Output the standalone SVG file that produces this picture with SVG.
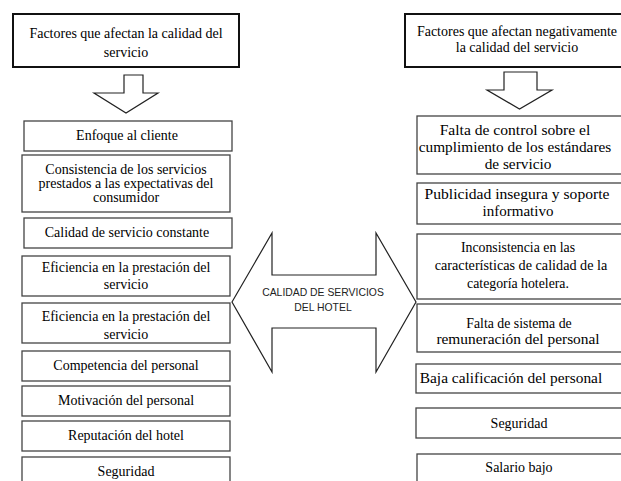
<svg xmlns="http://www.w3.org/2000/svg" width="621" height="481" viewBox="0 0 621 481">
<style>
.bg{fill:#fff}
.head{fill:#fff;stroke:#111;stroke-width:2}
.box{fill:#fff;stroke:#444;stroke-width:1.3}
.arr{fill:#fff;stroke:#222;stroke-width:1.2;stroke-linejoin:miter}
.t{font-family:"Liberation Serif","Times New Roman",serif;font-size:14px;fill:#000;text-anchor:middle}
.c{font-family:"Liberation Sans",Arial,sans-serif;font-size:10.4px;fill:#222;text-anchor:middle}
</style>
<rect class="bg" x="0" y="0" width="621" height="481"/>
<g id="connectors">
<polygon class="arr" points="124,75 143,75 143,93 158,93 126,113 94,93 124,93"/>
<polygon class="arr" points="504,72 537,72 537,90 552,90 519.5,109 487,90 504,90"/>
</g>
<g id="left-header"><rect class="head" x="13" y="14" width="226" height="53"/>
<text class="t" x="126" y="38">Factores que afectan la calidad del</text>
<text class="t" x="126" y="57">servicio</text></g>
<g id="right-header"><rect class="head" x="405" y="14" width="225" height="53"/>
<text class="t" x="517" y="36">Factores que afectan negativamente</text>
<text class="t" x="517" y="52">la calidad del servicio</text></g>
<g id="center-arrow">
<polygon class="arr" points="232,302 272,233 272,275 376,275 376,233 416,302 376,372 376,328 272,328 272,372"/>
<text class="c" x="323" y="296">CALIDAD DE SERVICIOS</text>
<text class="c" x="323" y="311">DEL HOTEL</text></g>
<g id="l1"><rect class="box" x="24" y="121" width="208" height="30"/><text class="t" x="127" y="140">Enfoque al cliente</text></g>
<g id="l2"><rect class="box" x="22" y="155" width="208" height="57"/>
<text class="t" x="126" y="174">Consistencia de los servicios</text>
<text class="t" x="126" y="188">prestados a las expectativas del</text>
<text class="t" x="126" y="202">consumidor</text></g>
<g id="l3"><rect class="box" x="24" y="218" width="208" height="30"/><text class="t" x="127" y="237">Calidad de servicio constante</text></g>
<g id="l4"><rect class="box" x="22" y="256" width="208" height="40"/>
<text class="t" x="126" y="272">Eficiencia en la prestación del</text>
<text class="t" x="126" y="289">servicio</text></g>
<g id="l5"><rect class="box" x="22" y="303" width="208" height="40"/>
<text class="t" x="126" y="321">Eficiencia en la prestación del</text>
<text class="t" x="126" y="339">servicio</text></g>
<g id="l6"><rect class="box" x="22" y="351" width="208" height="30"/><text class="t" x="126" y="370">Competencia del personal</text></g>
<g id="l7"><rect class="box" x="22" y="386" width="208" height="30"/><text class="t" x="126" y="405">Motivación del personal</text></g>
<g id="l8"><rect class="box" x="22" y="421" width="208" height="30"/><text class="t" x="126" y="440">Reputación del hotel</text></g>
<g id="l9"><rect class="box" x="22" y="457" width="208" height="40"/><text class="t" x="126" y="476">Seguridad</text></g>
<g id="r1"><rect class="box" x="417" y="116" width="215" height="58"/>
<text class="t" x="515" y="135" style="font-size:15.6px">Falta de control sobre el</text>
<text class="t" x="515" y="152" style="font-size:15.3px">cumplimiento de los estándares</text>
<text class="t" x="518" y="169" style="font-size:15.3px">de servicio</text></g>
<g id="r2"><rect class="box" x="417" y="183" width="215" height="41"/>
<text class="t" x="517" y="199" style="font-size:15.6px">Publicidad insegura y soporte</text>
<text class="t" x="518" y="216" style="font-size:15px">informativo</text></g>
<g id="r3"><rect class="box" x="417" y="234" width="215" height="65"/>
<text class="t" x="518" y="252" style="font-size:13.8px">Inconsistencia en las</text>
<text class="t" x="521" y="270" style="font-size:14.2px">características de calidad de la</text>
<text class="t" x="518" y="288" style="font-size:13.8px">categoría hotelera.</text></g>
<g id="r4"><rect class="box" x="417" y="304" width="215" height="48"/>
<text class="t" x="519" y="328" style="font-size:13.8px">Falta de sistema de</text>
<text class="t" x="518" y="344" style="font-size:15.4px">remuneración del personal</text></g>
<g id="r5"><rect class="box" x="416" y="364" width="215" height="29"/><text class="t" x="511" y="383" style="font-size:15.4px">Baja calificación del personal</text></g>
<g id="r6"><rect class="box" x="416" y="408" width="215" height="30"/><text class="t" x="519" y="428">Seguridad</text></g>
<g id="r7"><rect class="box" x="417" y="454" width="215" height="40"/><text class="t" x="519" y="472">Salario bajo</text></g>
</svg>
